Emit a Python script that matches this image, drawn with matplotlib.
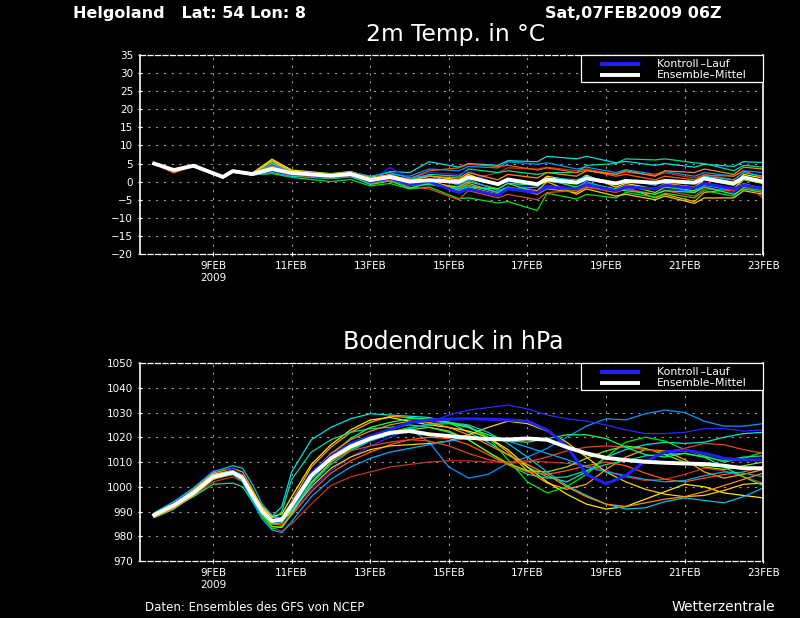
import matplotlib
matplotlib.use("Agg")
import matplotlib.pyplot as plt
from matplotlib.patches import Rectangle

# time axis in days since 07FEB2009 00Z
t_temp = [0.5, 1.0, 1.5, 2.25, 2.5, 3.0, 3.5, 4.0, 5.0, 5.5, 6.0, 6.5, 7.0, 7.5, 8.25, 8.5,
          9.25, 9.5, 10.25, 10.5, 11.25, 11.5, 12.25, 12.5, 13.25, 13.5, 14.25, 14.5, 15.25, 15.5, 16.0]
t_pres = [0.5, 1.0, 1.5, 2.0, 2.5, 2.75, 3.0, 3.25, 3.5, 3.75, 4.0, 4.5, 5.0, 5.5, 6.0, 6.5, 7.0,
          7.5, 8.0, 8.5, 9.0, 9.5, 10.0, 10.5, 11.0, 11.5, 12.0, 12.5, 13.0, 13.5, 14.0, 14.5, 15.0, 15.5, 16.0]

tick_days = [2, 4, 6, 8, 10, 12, 14, 16]
tick_labels = ["9FEB\n2009", "11FEB", "13FEB", "15FEB", "17FEB", "19FEB", "21FEB", "23FEB"]
legend_labels = ["Kontroll\u2009\u2013Lauf", "Ensemble\u2013Mittel"]

# 2m temperature
temp_mean = [5.0, 3.2, 4.4, 1.3, 2.9, 2.1, 3.5, 2.4, 1.6, 2.1, 0.4, 1.3, 0.0, 0.4, -0.1, 1.2,
             -0.7, 0.6, -0.7, 0.6, -0.3, 0.9, -0.5, 0.2, -0.3, 0.2, -0.3, 0.9, -0.5, 1.2, 0.0]
temp_ctrl = [5.0, 3.2, 4.4, 1.3, 2.9, 2.1, 3.3, 2.2, 1.4, 2.0, 0.0, 1.0, -0.8, 0.0, -3.0, -2.0,
             -3.8, -2.0, -3.0, -1.5, -2.0, -0.8, -2.5, -1.5, -2.0, -1.0, -1.8, -0.5, -2.0, -1.0, -2.0]
temp_members = [
    [5.0, 3.1, 4.4, 1.4, 3.0, 2.2, 5.5, 2.8, 2.0, 2.6, 1.0, 2.8, 2.5, 5.5, 4.0, 5.0, 4.5, 5.8, 5.5, 7.0, 6.3, 7.0, 5.2, 5.6, 4.5, 5.0, 4.0, 4.8, 4.2, 5.5, 5.3],
    [5.0, 3.3, 4.4, 1.3, 2.8, 2.0, 4.0, 2.5, 1.8, 2.3, 0.8, 2.0, 1.5, 3.5, 3.0, 4.2, 3.8, 5.5, 4.8, 5.2, 3.5, 4.0, 2.5, 3.3, 2.0, 2.8, 1.5, 2.5, 1.5, 3.0, 2.5],
    [5.0, 2.6, 4.3, 1.2, 2.9, 2.3, 3.2, 2.0, 1.2, 1.8, 0.2, 1.0, -0.5, -0.2, -1.5, 0.5, 2.5, 3.8, 3.5, 4.0, 3.0, 3.5, 2.0, 2.6, 1.8, 2.4, 1.0, 2.0, 0.5, -1.5, -2.5],
    [5.0, 2.5, 4.5, 1.0, 2.6, 1.8, 5.0, 3.0, 1.5, 2.0, 0.0, 1.0, -1.0, 0.0, -2.0, -0.5, -3.0, -1.5, -3.5, -2.0, -3.0, -1.5, -2.5, -1.5, -4.5, -3.5, -5.5, -3.0, -2.0, 1.0, -0.5],
    [5.0, 3.0, 4.4, 1.5, 3.1, 2.4, 6.2, 3.2, 2.2, 2.8, 1.2, 1.8, 0.5, 1.5, 0.5, 2.0, -1.0, 0.5, -0.5, 1.5, 0.0, 1.8, -1.5, -0.5, -2.0, -0.5, -1.5, 0.5, -1.0, 2.0, 1.0],
    [5.0, 3.2, 4.4, 1.3, 2.7, 1.9, 2.2, 1.2, 0.0, 0.6, -1.2, -0.5, -2.0, -1.5, -4.7, -4.5, -5.9, -5.5, -8.0, -3.2, -4.8, -3.5, -4.5, -3.0, -4.3, -3.2, -4.5, -2.5, -4.0, -1.5, -2.5],
    [5.0, 3.4, 4.4, 1.3, 2.9, 2.1, 3.8, 2.4, 1.7, 2.2, 0.5, 1.5, 0.3, 2.0, 1.5, 3.5, 2.5, 3.0, 2.0, 2.5, 2.5, 4.5, 5.0, 6.3, 6.0, 6.3, 5.2, 5.0, 3.0, 4.5, 4.0],
    [5.0, 3.0, 4.4, 1.3, 2.8, 2.0, 4.5, 2.6, 1.5, 2.0, 0.2, 3.9, 1.0, 2.5, 2.0, 3.0, -1.0, 0.0, -2.5, -1.0, -2.0, -0.5, -3.0, -2.0, -3.5, -2.0, -2.8, -1.5, -3.0, -1.0, -1.5],
    [5.0, 2.4, 4.4, 1.1, 2.7, 2.2, 3.0, 2.2, 1.4, 1.9, 0.6, 1.2, 0.8, 3.0, 3.8, 4.8, 4.2, 4.5, 3.2, 3.8, 2.5, 3.2, 1.5, 2.0, 0.5, 1.5, 0.5, 1.8, 1.5, 3.0, 1.0],
    [5.0, 3.2, 4.4, 1.4, 2.9, 2.0, 4.2, 2.3, 1.9, 2.4, -0.3, 0.8, -0.5, -0.5, -1.5, 0.0, -2.0, -0.5, -3.0, -1.5, -2.5, -1.0, -2.0, -1.0, -3.0, -1.5, -2.5, -0.5, -2.0, 0.5, -0.5],
    [5.0, 2.8, 4.3, 1.3, 3.0, 2.1, 5.8, 2.9, 1.8, 2.4, 0.0, 1.4, -0.8, 0.5, -2.5, -1.5, -3.5, -2.0, -2.5, 0.0, -3.5, -2.0, -4.0, -3.5, -5.0, -4.0, -6.0, -4.5, -4.5, -2.5, -3.5],
    [5.0, 3.3, 4.4, 1.2, 2.8, 1.8, 2.5, 1.5, 0.8, 1.3, -0.5, 0.5, -1.0, -0.8, -2.0, -1.0, -3.0, -2.0, -1.5, 1.0, 0.5, 1.5, -0.5, 0.5, -1.0, 0.5, 0.0, 1.5, 0.5, 2.5, 1.5],
    [5.0, 3.1, 4.4, 1.3, 2.9, 2.2, 4.8, 2.7, 2.1, 2.6, 1.5, 2.5, 1.0, 1.8, -1.0, 0.5, -2.5, -1.5, -3.0, -2.0, -1.5, 0.0, -2.5, -1.0, -2.0, -1.0, -3.0, -1.0, -2.5, -0.5, -2.0],
    [5.0, 2.7, 4.4, 1.2, 2.8, 2.0, 3.0, 1.8, 1.0, 1.6, -0.5, 0.5, -1.5, -2.0, -5.0, -2.5, -4.5, -3.5, -5.0, -3.0, -2.5, -1.5, -3.0, -2.0, -3.5, -2.5, -4.0, -2.0, -2.5, -0.5, -4.5],
    [5.0, 3.2, 4.4, 1.3, 2.8, 2.1, 3.5, 2.1, 1.3, 1.7, -0.8, 0.2, -1.8, -0.5, -2.5, -1.5, -2.0, -0.5, -1.0, 0.5, -1.5, -0.5, -2.0, -2.5, -3.5, -2.5, -3.0, -1.5, -3.5, -2.0, -3.0],
    [5.0, 2.9, 4.4, 1.4, 3.0, 2.3, 4.2, 2.6, 1.9, 2.5, 0.9, 1.9, 0.2, 1.5, 1.0, 2.5, 0.5, 2.0, 1.0, 2.5, 1.5, 3.0, 2.0, 3.0, 1.5, 3.0, 2.5, 3.5, 2.0, 4.0, 3.5],
]

# surface pressure
pres_mean = [988.6, 992.5, 997.5, 1004.0, 1005.8, 1003.5, 996.5, 990.0, 986.2, 986.8, 992.5, 1004.5,
             1011.5, 1016.3, 1019.5, 1021.8, 1022.5, 1021.2, 1020.5, 1019.8, 1019.3, 1019.1, 1019.5,
             1019.0, 1016.0, 1013.5, 1011.7, 1010.8, 1010.1, 1009.7, 1009.4, 1009.2, 1008.5, 1007.5, 1007.5]
pres_ctrl = [988.6, 992.5, 997.5, 1004.0, 1006.0, 1003.5, 996.5, 990.0, 986.5, 987.0, 993.0, 1005.5,
             1012.5, 1017.5, 1020.5, 1023.0, 1026.0, 1027.0, 1027.3, 1027.5, 1027.3, 1027.0, 1026.5,
             1023.0, 1016.5, 1005.0, 1001.2, 1004.5, 1010.3, 1014.0, 1014.8, 1013.5, 1011.5, 1010.8, 1010.8]
pres_members = [
    [988.0, 992.0, 998.0, 1005.0, 1006.0, 1004.0, 997.0, 991.0, 988.0, 992.0, 1006.0, 1019.0, 1024.0, 1027.5, 1029.5, 1029.0, 1028.5, 1028.0, 1026.0, 1022.0, 1018.0, 1013.0, 1008.0, 1004.0, 1002.0, 1006.0, 1012.0, 1015.0, 1017.0, 1018.0, 1017.5, 1018.0, 1020.0, 1021.5, 1022.0],
    [988.5, 993.0, 998.5, 1005.0, 1006.5, 1004.0, 996.0, 989.0, 985.5, 986.0, 991.0, 1003.0, 1011.0, 1016.0, 1020.0, 1022.0, 1023.5, 1018.0, 1008.0, 1003.5, 1005.0, 1009.5, 1012.0, 1015.5, 1020.0, 1024.5, 1027.5, 1027.0, 1029.5, 1031.0, 1030.0, 1026.5, 1024.5, 1024.5, 1025.5],
    [988.0, 991.5, 996.0, 1002.0, 1004.0, 1002.0, 995.0, 988.0, 983.5, 982.0, 985.0, 993.0, 1000.5, 1004.0, 1006.0, 1008.0, 1009.0, 1010.0, 1010.5, 1010.5, 1010.0, 1010.0, 1010.5, 1010.0, 1009.5, 1008.5, 1006.5, 1004.0, 1002.5, 1003.0, 1005.0, 1007.5, 1006.5, 1004.0, 1001.5],
    [989.0, 993.5, 999.0, 1005.5, 1007.5, 1006.0, 999.0, 991.5, 987.5, 987.5, 994.0, 1008.0, 1016.0, 1022.0, 1026.0, 1028.5, 1028.0, 1027.0, 1026.0, 1024.5, 1020.0, 1014.0, 1006.5, 1001.5, 999.0, 1001.0, 1007.0, 1012.0, 1015.0, 1014.5, 1011.0, 1006.0, 1003.5, 1005.0, 1007.0],
    [988.0, 992.0, 997.0, 1004.0, 1006.0, 1004.5, 998.0, 992.0, 988.0, 989.0, 996.0, 1009.0, 1017.0, 1023.0, 1027.0, 1028.0, 1026.5, 1025.0, 1024.0, 1022.5, 1020.0, 1015.0, 1008.0, 1002.0, 997.0, 993.0, 991.0, 992.0, 995.0, 998.0, 1001.0, 1000.0, 997.5, 996.5, 995.5],
    [988.5, 992.5, 997.0, 1003.5, 1005.0, 1002.5, 995.0, 988.0, 983.0, 984.0, 990.0, 1002.0, 1010.0, 1015.0, 1019.0, 1022.0, 1024.0, 1025.0, 1025.5, 1024.0, 1020.0, 1011.0, 1002.0, 997.5, 1000.0, 1005.0, 1012.0, 1018.0, 1020.0, 1018.5, 1015.0, 1012.5, 1010.0, 1011.5, 1014.0],
    [989.0, 992.0, 996.0, 1001.0, 1001.5, 1000.0, 994.0, 989.0, 986.0, 990.0, 1003.0, 1014.0, 1019.0, 1022.0, 1023.5, 1024.0, 1025.0, 1024.0, 1022.0, 1019.0, 1014.0, 1009.0, 1005.0, 1003.5, 1004.0, 1006.5, 1009.0, 1010.5, 1012.5, 1013.0, 1013.5, 1012.0, 1010.5, 1012.0, 1012.5],
    [988.5, 993.5, 999.5, 1006.5, 1007.5, 1005.0, 997.5, 990.0, 985.5, 985.0, 989.0, 999.0, 1006.5, 1012.0, 1016.5, 1020.0, 1023.0, 1026.0, 1029.0, 1031.0, 1032.0, 1033.0, 1031.5, 1029.0, 1027.5, 1026.5, 1025.0, 1023.0, 1021.5, 1021.5, 1022.0, 1023.5, 1023.5, 1022.5, 1023.0],
    [988.0, 992.0, 997.5, 1003.5, 1005.5, 1004.0, 997.0, 989.5, 985.0, 984.5, 988.5, 998.0, 1005.5, 1010.5, 1014.0, 1017.0, 1019.0, 1020.0, 1019.5, 1017.0, 1013.0, 1009.0, 1006.0, 1005.0, 1006.5, 1008.5, 1010.0, 1008.5, 1005.5, 1003.0, 1002.0, 1003.5, 1005.0, 1006.0, 1008.0],
    [987.5, 991.0, 996.5, 1003.0, 1005.0, 1003.5, 996.5, 989.0, 984.0, 983.5, 989.0, 1001.5, 1010.0, 1015.5, 1019.0, 1021.5, 1023.0, 1024.0, 1022.5, 1019.0, 1014.0, 1009.5, 1006.5, 1006.0, 1008.0, 1011.5, 1014.5, 1016.5, 1015.5, 1013.0, 1010.0, 1008.0, 1007.0, 1008.5, 1010.0],
    [988.5, 993.0, 998.5, 1005.0, 1006.5, 1004.5, 998.0, 991.0, 986.5, 986.0, 990.0, 1000.0, 1007.5, 1012.0, 1015.0, 1016.5, 1017.0, 1017.5, 1018.5, 1021.0, 1024.0, 1026.5, 1025.5, 1022.5, 1018.0, 1012.0, 1006.0, 1002.0, 999.0, 997.0, 996.0, 996.5, 998.5, 1001.0, 1001.5],
    [989.5, 994.0, 999.5, 1006.0, 1008.5, 1007.5, 1001.0, 993.0, 988.5, 987.0, 990.5, 1001.0, 1009.0, 1014.5, 1018.5, 1021.0, 1023.5, 1025.5, 1026.0, 1025.0, 1022.0, 1017.5, 1012.0, 1006.0, 1000.5, 996.5, 993.0, 991.0, 991.5, 994.0, 995.5, 994.5, 993.5, 996.0, 999.5],
    [988.0, 992.5, 997.5, 1003.5, 1005.0, 1002.0, 994.0, 987.0, 982.5, 981.5, 986.0, 996.0, 1003.0, 1008.0, 1011.5, 1014.0, 1015.5, 1017.0, 1018.5, 1019.5, 1019.5, 1018.5, 1016.0, 1013.5, 1011.0, 1008.0, 1006.0, 1004.5, 1003.0, 1002.0, 1002.5, 1004.5, 1006.0, 1005.5, 1004.0],
    [989.0, 993.0, 998.0, 1004.5, 1006.0, 1003.5, 996.0, 989.5, 986.0, 986.5, 992.0, 1004.0, 1010.5, 1014.5, 1016.5, 1018.0, 1019.0, 1018.5, 1016.5, 1013.5, 1011.0, 1009.5, 1010.0, 1012.0, 1014.5, 1016.0, 1016.5, 1016.0, 1015.0, 1014.0, 1015.5, 1017.5, 1017.0, 1015.0, 1013.5],
    [988.5, 992.5, 997.5, 1004.0, 1005.5, 1003.0, 995.5, 989.0, 985.0, 985.5, 991.5, 1004.0, 1013.0, 1019.5, 1024.0, 1026.0, 1027.5, 1027.5, 1026.0, 1024.0, 1021.0, 1018.5, 1018.0, 1019.5, 1021.0, 1021.0, 1019.5, 1016.0, 1013.0, 1012.0, 1013.5, 1012.0, 1008.0, 1004.0, 1000.5],
    [988.0, 991.5, 996.5, 1003.0, 1005.5, 1004.0, 997.5, 990.5, 986.5, 987.0, 993.5, 1005.5, 1013.5, 1019.0, 1022.5, 1025.0, 1026.5, 1026.0, 1024.0, 1021.0, 1017.0, 1013.0, 1009.0, 1005.0, 1000.0, 996.0, 993.0, 992.0, 993.5, 995.0, 996.0, 998.0, 1000.5, 1003.0, 1005.5],
]

member_colors = ["#00e0e6", "#0096ff", "#c83214", "#ffa000", "#ffe600", "#00e600",
                 "#00dc96", "#2828ff", "#ff5a00", "#80e600", "#ffc800", "#00c0e6",
                 "#00aaff", "#dc4a1e", "#00ff64", "#ff8c00"]
ctrl_color = "#2020ff"

fig = plt.figure(figsize=(8, 6.18), dpi=100, facecolor="black")
ax1 = fig.add_axes([0.175, 0.589, 0.779, 0.322])
ax2 = fig.add_axes([0.175, 0.0922, 0.779, 0.3204])


def style_axis(ax, ymin, ymax, ystep):
    ax.set_facecolor("black")
    ax.set_xlim(0.14, 16.0)
    ax.set_ylim(ymin, ymax)
    ax.set_yticks(range(ymin, ymax + 1, ystep))
    ax.set_xticks(tick_days)
    ax.set_xticklabels(tick_labels, va="top")
    ax.tick_params(colors="white", labelsize=7.5, length=3, width=0.8, direction="inout")
    ax.grid(True, color="#9a9a9a", linestyle=(0, (2, 5)), linewidth=0.8)
    for side in ["left", "right"]:
        ax.spines[side].set_color("white")
        ax.spines[side].set_linewidth(1.2)
    for side in ["top", "bottom"]:
        ax.spines[side].set_color("white")
        ax.spines[side].set_linestyle((0, (4, 2)))
        ax.spines[side].set_linewidth(0.9)


def draw_key(ax):
    # boxed key in the upper right corner, GrADS style
    tr = ax.transAxes
    ax.add_patch(Rectangle((0.708, 0.864), 0.292, 0.136, transform=tr, facecolor="black",
                           edgecolor="white", linewidth=0.9, zorder=10, clip_on=False))
    rows = [0.957, 0.900]
    for y, c, lab in zip(rows, [ctrl_color, "white"], legend_labels):
        ax.plot([0.738, 0.802], [y, y], transform=tr, color=c, linewidth=2.8,
                solid_capstyle="butt", zorder=11, clip_on=False)
        ax.text(0.830, y, lab, transform=tr, color="white", fontsize=7.8, va="center",
                ha="left", zorder=12)


for vals, c in zip(temp_members, member_colors):
    ax1.plot(t_temp, vals, color=c, linewidth=0.9)
ax1.plot(t_temp, temp_ctrl, color=ctrl_color, linewidth=2.2)
ax1.plot(t_temp, temp_mean, color="white", linewidth=2.8)
style_axis(ax1, -20, 35, 5)
draw_key(ax1)

for vals, c in zip(pres_members, member_colors):
    ax2.plot(t_pres, vals, color=c, linewidth=0.9)
ax2.plot(t_pres, pres_ctrl, color=ctrl_color, linewidth=2.2)
ax2.plot(t_pres, pres_mean, color="white", linewidth=2.8)
style_axis(ax2, 970, 1050, 10)
draw_key(ax2)

fig.text(0.091, 0.978, "Helgoland   Lat: 54 Lon: 8", color="white", fontsize=11.5,
         fontweight="bold", va="center", ha="left")
fig.text(0.681, 0.978, "Sat,07FEB2009 06Z", color="white", fontsize=11.5,
         fontweight="bold", va="center", ha="left")
fig.text(0.569, 0.944, "2m Temp. in °C", color="white", fontsize=16.8, va="center", ha="center")
fig.text(0.566, 0.447, "Bodendruck in hPa", color="white", fontsize=17, va="center", ha="center")
fig.text(0.181, 0.017, "Daten: Ensembles des GFS von NCEP", color="white", fontsize=8.5,
         va="center", ha="left")
fig.text(0.969, 0.017, "Wetterzentrale", color="white", fontsize=10, va="center", ha="right")

fig.savefig("out.png", dpi=100, facecolor="black")
